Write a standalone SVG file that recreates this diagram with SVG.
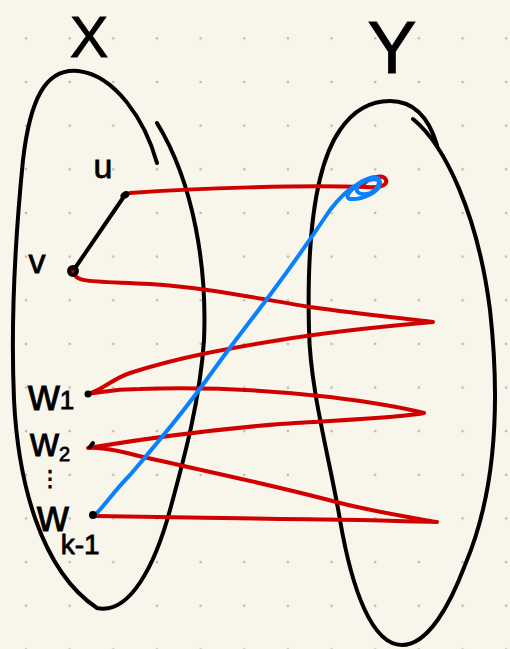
<svg xmlns="http://www.w3.org/2000/svg" width="510" height="649" viewBox="0 0 510 649">
<style>
.ink{fill:none;stroke:#000;stroke-width:4;stroke-linecap:round;stroke-linejoin:round}
.red{fill:none;stroke:#d00000;stroke-width:4;stroke-linecap:round;stroke-linejoin:round}
.blue{fill:none;stroke:#0a80ff;stroke-width:4;stroke-linecap:round;stroke-linejoin:round}
.lbl{font-family:"Liberation Sans","DejaVu Sans",sans-serif;fill:#000;stroke:#000;stroke-width:0.8}
</style>
<defs>
<pattern id="grid" x="4.2" y="16.5" width="43.65" height="43.65" patternUnits="userSpaceOnUse">
<circle cx="21.8" cy="21.8" r="1.3" fill="#b8b8b0"/>
</pattern>
</defs>
<rect width="510" height="649" fill="#f8f6eb"/>
<rect width="510" height="649" fill="url(#grid)"/>

<g id="X">
<path class="ink" d="M157,163 C145,120 115,75 78,71 C45,68 30,100 23,160 C15,240 11,330 14,400 C18,480 40,570 97,608 C130,615 155,565 170,510 C185,455 200,400 204,340 C207,270 195,185 157,123"/>
<text class="lbl" x="89" y="57" font-size="58" text-anchor="middle" stroke-width="0.5">X</text>
</g>

<g id="Y">
<path class="ink" d="M413,119 C445,145 478,215 490,310 C500,400 497,490 465,565 C450,605 428,645 402,645 C372,645 352,590 340,520 C330,460 310,390 309,330 C307,250 312,170 340,130 C355,108 372,101 390,101 C412,101 428,115 437,145"/>
<text class="lbl" x="392" y="73" font-size="74" text-anchor="middle" stroke-width="0.5">Y</text>
</g>

<g id="connectors">
<path class="ink" d="M125,195 L73,271"/>
<path class="red" d="M130,193 C200,188 300,185 366,187 C378,188 388,186 386,180 C383,173 368,178 362,186"/>
<path class="red" d="M73,272 C76,283 90,281 150,284 C200,287 250,297 310,307 C360,314 400,318 433,322 C400,325 340,330 280,340 C230,348 180,357 130,373 C110,380 100,392 87,394 C100,393 110,389 140,389 C200,387 260,389 330,397 C370,402 400,407 424,413 C400,418 340,420 280,424 C220,429 160,436 88,448 C100,447 115,450 135,455 C190,468 270,484 340,503 C380,513 415,518 437,522 C400,521 330,519 280,519 C220,518 150,517 95,516"/>
<path class="blue" d="M95,515 C105,505 115,490 130,475 C160,440 185,410 210,375 C235,340 255,315 270,295 C290,268 310,240 330,210 C340,197 350,188 358,184 C368,177 380,174 380,183 C380,192 362,200 350,199 C343,197 352,187 366,181 C376,177 383,180 378,188 C373,195 360,196 357,191 C355,186 366,178 374,177 C381,177 381,186 372,192"/>
</g>

<g id="u">
<ellipse cx="125" cy="195" rx="5" ry="3.5" transform="rotate(-30 125 195)" fill="#000"/>
<text class="lbl" x="103" y="178" font-size="34" text-anchor="middle">u</text>
</g>
<g id="v">
<circle cx="73" cy="271" r="4" class="ink" stroke-width="3"/>
<text class="lbl" x="37" y="273" font-size="34" text-anchor="middle">v</text>
</g>
<g id="w1">
<circle cx="88" cy="394" r="3.5" fill="#000"/>
<text class="lbl" x="28" y="410" font-size="44">w<tspan font-size="26" dy="-1">1</tspan></text>
</g>
<g id="w2">
<path class="ink" d="M90,447 L93,443" stroke-width="3"/>
<text class="lbl" x="30" y="456" font-size="40">w<tspan font-size="20" dy="5">2</tspan></text>
<text class="lbl" x="50" y="486" font-size="22" text-anchor="middle">⋮</text>
</g>
<g id="wk-1">
<circle cx="93" cy="515" r="4" fill="#000"/>
<text class="lbl" x="37" y="531" font-size="44">w<tspan font-size="28" dy="23" dx="-8">k-1</tspan></text>
</g>
</svg>
